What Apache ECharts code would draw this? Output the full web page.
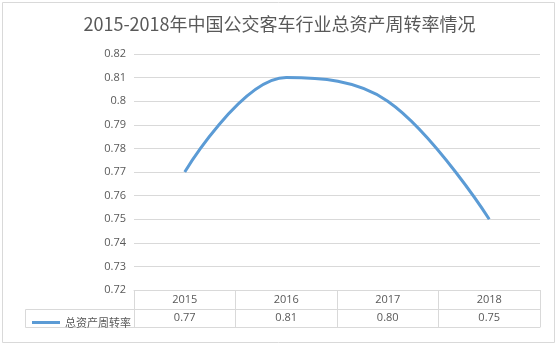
<!DOCTYPE html>
<html>
<head>
<meta charset="utf-8">
<script src="https://cdn.jsdelivr.net/npm/echarts@6/dist/echarts.min.js"></script>
<style>
html,body{margin:0;padding:0;background:#fff;}
#c{width:559px;height:348px;}
</style>
</head>
<body>
<div id="c"></div>
<script>
var titleText = '2015-2018年中国公交客车行业总资产周转率情况';
var categories = ['2015', '2016', '2017', '2018'];
var seriesName = '总资产周转率';
var values = [0.77, 0.81, 0.80, 0.75];
var yMin = 0.72, yMax = 0.82, yStep = 0.01;

var chart = echarts.init(document.getElementById('c'));
var txt = '#595959', gridC = '#d9d9d9';
var ff = '"Open Sans", "Noto Sans CJK SC", sans-serif';
chart.setOption({
  animation: false,
  textStyle: { fontFamily: ff },
  title: {
    text: titleText, left: 'center', top: 10,
    textStyle: { fontSize: 18, fontWeight: 'normal', color: txt, fontFamily: '"Noto Sans CJK SC", sans-serif' }
  },
  legend: {
    data: [seriesName], left: 27, top: 312, icon: 'rect', itemWidth: 28, itemHeight: 3,
    textStyle: { fontSize: 11, color: txt, fontFamily: '"Noto Sans CJK SC", sans-serif' }
  },
  grid: { left: 134, right: 19, top: 54, bottom: 58 },
  xAxis: [
    {
      type: 'category', data: categories, boundaryGap: true,
      axisLine: { lineStyle: { color: gridC } },
      axisTick: { show: true, length: 37, lineStyle: { color: gridC } },
      axisLabel: { color: txt, fontSize: 11, margin: 4 }
    },
    {
      type: 'category', data: categories, position: 'bottom', offset: 19,
      axisLine: { lineStyle: { color: gridC } },
      axisTick: { show: false },
      axisLabel: { color: txt, fontSize: 11, margin: 3, formatter: function (v, i) { return values[i].toFixed(2); } }
    },
    {
      type: 'category', data: categories, position: 'bottom', offset: 37,
      axisLine: { lineStyle: { color: gridC } },
      axisTick: { show: false }, axisLabel: { show: false }
    }
  ],
  yAxis: {
    type: 'value', min: yMin, max: yMax, interval: yStep,
    axisLine: { show: false }, axisTick: { show: false },
    splitLine: { lineStyle: { color: gridC } },
    axisLabel: { color: txt, fontSize: 11, margin: 8 }
  },
  series: [{
    name: seriesName, type: 'line', data: values, smooth: 0.38, showSymbol: false, symbol: 'none',
    lineStyle: { color: '#5b9bd5', width: 3 }, itemStyle: { color: '#5b9bd5' }
  }],
  graphic: [
    { type: 'rect', shape: { x: 2.5, y: 2.5, width: 552, height: 340 }, style: { fill: 'none', stroke: '#d9d9d9', lineWidth: 1 }, z: -1 },
    { type: 'line', shape: { x1: 25.5, y1: 309.5, x2: 134, y2: 309.5 }, style: { stroke: gridC, lineWidth: 1 } },
    { type: 'line', shape: { x1: 25.5, y1: 327.5, x2: 134, y2: 327.5 }, style: { stroke: gridC, lineWidth: 1 } },
    { type: 'line', shape: { x1: 25.5, y1: 309.5, x2: 25.5, y2: 327.5 }, style: { stroke: gridC, lineWidth: 1 } }
  ]
});
</script>
</body>
</html>
